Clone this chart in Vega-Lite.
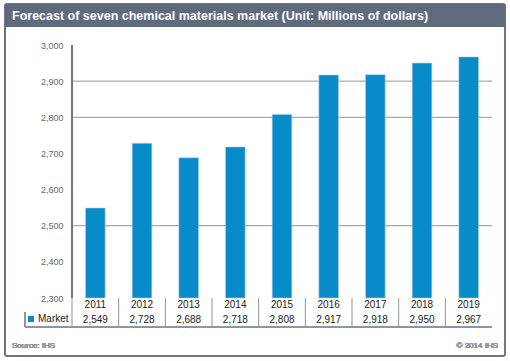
{
  "$schema": "https://vega.github.io/schema/vega-lite/v6.json",
  "autosize": "none",
  "width": 500,
  "height": 352,
  "padding": {"left": 5, "top": 4, "right": 5, "bottom": 5},
  "background": "white",
  "config": {"font": "Liberation Sans"},
  "view": {"fill": "white", "stroke": "#6b7585", "strokeWidth": 2, "cornerRadius": 2},
  "title": {"text": "Forecast of seven chemical materials market (Unit: Millions of dollars)", "anchor": "start", "frame": "group", "offset": -28, "dx": 7, "baseline": "alphabetic", "color": "white", "fontSize": 12.5, "fontWeight": "bold"},
  "datasets": {
    "market": [
      {"year": "2011", "value": 2549, "series": "Market"},
      {"year": "2012", "value": 2728, "series": "Market"},
      {"year": "2013", "value": 2688, "series": "Market"},
      {"year": "2014", "value": 2718, "series": "Market"},
      {"year": "2015", "value": 2808, "series": "Market"},
      {"year": "2016", "value": 2917, "series": "Market"},
      {"year": "2017", "value": 2918, "series": "Market"},
      {"year": "2018", "value": 2950, "series": "Market"},
      {"year": "2019", "value": 2967, "series": "Market"}
    ],
    "gridlines": [{"level": 2500}, {"level": 2800}, {"level": 2900}]
  },
  "data": {"name": "market"},
  "encoding": {
    "x": {"field": "year", "type": "nominal", "axis": null, "scale": {"type": "band", "range": [67, 487], "paddingInner": 0, "paddingOuter": 0}},
    "y": {"type": "quantitative", "scale": {"domain": [2139.53, 3113.44], "nice": false, "zero": false}}
  },
  "layer": [
    {
      "data": {"name": "gridlines"},
      "mark": {"type": "rule", "color": "#8c95a1", "strokeWidth": 1},
      "encoding": {
        "x": {"datum": "2011", "bandPosition": 0},
        "x2": {"datum": "2019", "bandPosition": 1},
        "y": {"field": "level", "type": "quantitative", "axis": {"orient": "left", "offset": -67, "values": [2300, 2400, 2500, 2600, 2700, 2800, 2900, 3000], "format": ",d", "domain": false, "ticks": false, "grid": false, "labelPadding": 9, "labelFontSize": 9, "labelColor": "#666", "title": null}}
      }
    },
    {
      "mark": {"type": "rect", "color": "#5f6b7d", "xOffset": -67, "x2Offset": 13},
      "encoding": {
        "x": {"datum": "2011", "bandPosition": 0},
        "x2": {"datum": "2019", "bandPosition": 1},
        "y": {"datum": 3113.44},
        "y2": {"datum": 3049.8}
      }
    },
    {
      "mark": {"type": "bar", "width": {"band": 0.42}, "stroke": "#a9cfe6", "strokeWidth": 0.6},
      "encoding": {
        "y": {"field": "value", "type": "quantitative"},
        "y2": {"datum": 2300},
        "color": {"field": "series", "type": "nominal", "scale": {"range": ["#078bc9"]},
          "legend": {"orient": "none", "legendX": 21, "legendY": 310, "title": null, "symbolType": "square", "symbolSize": 36, "symbolStrokeWidth": 0, "labelFontSize": 10, "labelColor": "#222", "labelOffset": 2}}
      }
    },
    {
      "mark": {"type": "rule", "color": "#6b7787", "strokeWidth": 1},
      "encoding": {
        "x": {"datum": "2011", "bandPosition": 0},
        "y": {"datum": 3000},
        "y2": {"datum": 2300}
      }
    },
    {
      "mark": {"type": "rule", "color": "#8c95a1", "strokeWidth": 1},
      "encoding": {
        "x": {"field": "year", "type": "nominal", "bandPosition": 0},
        "y": {"datum": 2300},
        "y2": {"datum": 2219.76}
      }
    },
    {
      "mark": {"type": "rule", "color": "#8c95a1", "strokeWidth": 1, "xOffset": -47},
      "encoding": {
        "x": {"datum": "2011", "bandPosition": 0},
        "y": {"datum": 2261.26},
        "y2": {"datum": 2219.76}
      }
    },
    {
      "mark": {"type": "rule", "color": "#8c95a1", "strokeWidth": 1, "xOffset": -47},
      "encoding": {
        "x": {"datum": "2011", "bandPosition": 0},
        "x2": {"datum": "2019", "bandPosition": 1},
        "y": {"datum": 2219.76}
      }
    },
    {
      "mark": {"type": "text", "fontSize": 10, "color": "#222", "baseline": "middle"},
      "encoding": {
        "y": {"datum": 2280.63},
        "text": {"field": "year"}
      }
    },
    {
      "mark": {"type": "text", "fontSize": 10, "color": "#222", "baseline": "middle"},
      "encoding": {
        "y": {"datum": 2239.13},
        "text": {"field": "value", "format": ",d"}
      }
    },
    {
      "mark": {"type": "text", "fontSize": 8, "color": "#999", "baseline": "alphabetic", "align": "left", "xOffset": -60},
      "encoding": {
        "x": {"datum": "2011", "bandPosition": 0},
        "y": {"datum": 2161.66},
        "text": {"value": "Source: IHS"}
      }
    },
    {
      "mark": {"type": "text", "fontSize": 8, "color": "#999", "baseline": "alphabetic", "align": "right", "xOffset": 6},
      "encoding": {
        "x": {"datum": "2019", "bandPosition": 1},
        "y": {"datum": 2161.66},
        "text": {"value": "© 2014 IHS"}
      }
    }
  ]
}
